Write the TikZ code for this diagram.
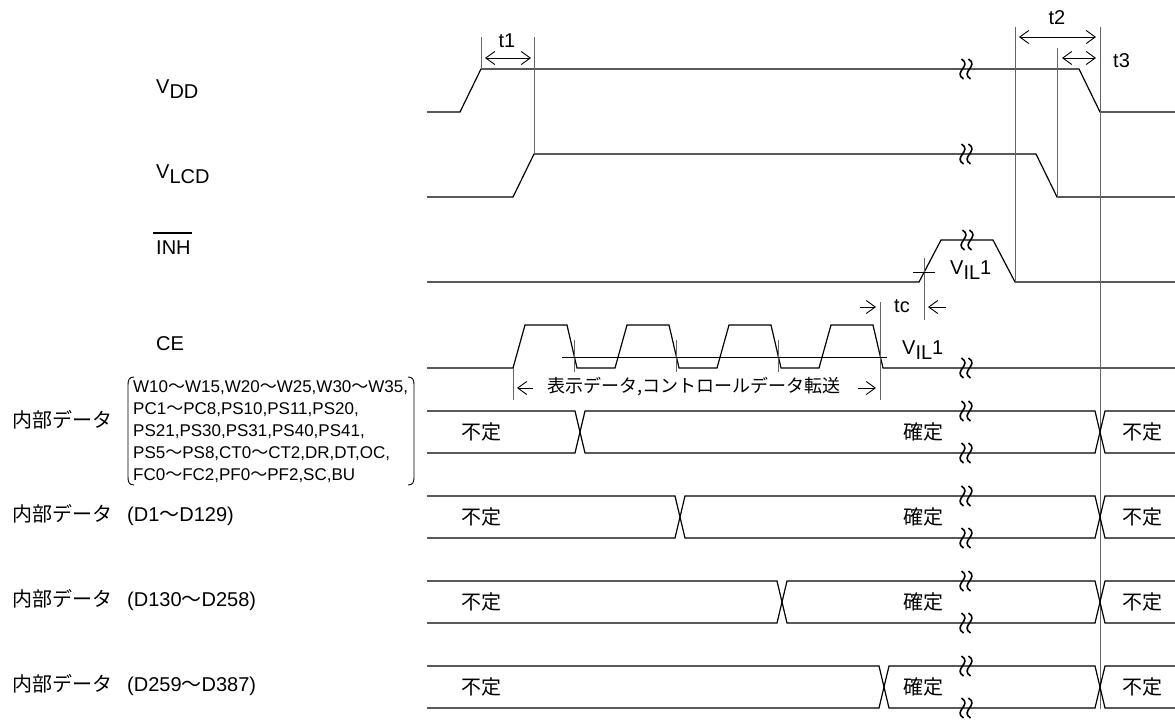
\documentclass[tikz,border=0pt]{standalone}
\usepackage{fontspec}
\setmainfont{Liberation Sans}
\newfontfamily\jpfont{Noto Sans CJK JP}
\usetikzlibrary{arrows.meta}
\usetikzlibrary{positioning}
\definecolor{guidegray}{RGB}{100,100,100}
\newcommand*{\sigfont}{\fontsize{20}{24}\selectfont}
\newcommand*{\listfont}{\fontsize{17}{22}\selectfont}
\newcommand*{\lowsub}[1]{\raisebox{-5pt}{#1}}
\newcommand*{\jtilde}{{\jpfont ～}}
\tikzstyle{wave}=[black, line width=1.2pt, line join=miter]
\tikzstyle{guide}=[guidegray, line width=1pt]
\tikzstyle{fine}=[black, line width=0.9pt]
\tikzstyle{brk}=[black, line width=1.6pt]
\tikzstyle{dimline}=[black, line width=0.9pt, {Straight Barb[length=9pt,width=13pt]}-{Straight Barb[length=9pt,width=13pt]}]
\tikzstyle{onetip}=[black, line width=0.9pt, -{Straight Barb[length=9pt,width=13pt]}]
\tikzstyle{lbl}=[inner sep=0pt, font=\sigfont]
\newcommand*{\wstroke}[2]{\draw [brk] (#1 - 1, #2 - 10) .. controls (#1 + 10, #2 - 3) and (#1 - 10, #2 + 3) .. (#1 + 1, #2 + 10);}
\newcommand*{\wbrk}[2]{\wstroke{#1 - 3.5}{#2}\wstroke{#1 + 3.5}{#2}}
\newcommand*{\bus}[2]{%
  \draw [wave] (427,#1 - 21) -- (#2 - 5,#1 - 21) -- (#2 + 5,#1 + 21) -- (1095,#1 + 21) -- (1105,#1 - 21) -- (1175,#1 - 21);
  \draw [wave] (427,#1 + 21) -- (#2 - 5,#1 + 21) -- (#2 + 5,#1 - 21) -- (1095,#1 - 21) -- (1105,#1 + 21) -- (1175,#1 + 21);
  \wbrk{966}{#1 - 21}\wbrk{966}{#1 + 21}}

\begin{document}
\begin{tikzpicture}[x=1pt, y=-1pt]
    \useasboundingbox (0,0) rectangle (1175,720);
    \node [lbl, anchor=base west] (vdd) at (156,93) {V\lowsub{DD}};
    \node [lbl, anchor=base west] (vlcd) at (156,178) {V\lowsub{LCD}};
    \node [lbl, anchor=base west] (inh) at (156,254) {INH};
    \draw [fine, line width=1.1pt] ([shift={(-3pt,7pt)}]inh.north west) -- ([shift={(1pt,7pt)}]inh.north east);
    \node [lbl, anchor=base west] (ce) at (156,350) {CE};

        \draw [wave] (427,112) -- (460,112) -- (481,69) -- (1079,69) -- (1100,112) -- (1175,112);
        \draw [wave] (427,197) -- (513,197) -- (534,154) -- (1036,154) -- (1057,197) -- (1175,197);
        \draw [wave] (427,282) -- (919,282) -- (941,240) -- (993,240) -- (1015,282) -- (1175,282);
        \draw [wave] (427,368) -- (513,368) -- (525,325) -- (567,325) -- (577,368) -- (615,368) -- (627,325) -- (669,325) -- (679,368)
            -- (717,368) -- (729,325) -- (771,325) -- (781,368) -- (819,368) -- (831,325) -- (873,325) -- (883,368) -- (1175,368);
        \wbrk{966}{69}
        \wbrk{966}{154}
        \wbrk{967}{240}
        \wbrk{966}{368}

        \draw [guide] (481,37) -- (481,69);
        \draw [guide] (534,37) -- (534,154);
        \draw [guide] (1015,27) -- (1015,282);
        \draw [guide] (1057,48) -- (1057,197);
        \draw [guide] (1100,27) -- (1100,709);
        \draw [guide] (513,368) -- (513,400);
        \draw [guide] (880,302) -- (880,400);
        \draw [guide] (574,340) -- (574,372);
        \draw [guide] (676,340) -- (676,372);
        \draw [guide] (778,340) -- (778,372);
        \draw [guide] (924,258) -- (924,320);
        \draw [fine] (913,272) -- (935,272);
        \draw [fine] (562,357) -- (887,357);

        \draw [dimline] (485,58) -- (531,58);
        \draw [dimline] (1019,37) -- (1096,37);
        \draw [dimline] (1062,58) -- (1096,58);
        \draw [onetip] (860,307) -- (876,307);
        \draw [onetip] (946,307) -- (928,307);
        \draw [onetip] (533,388) -- (517,388);
        \draw [onetip] (858,388) -- (876,388);

    \node [lbl, anchor=base] (t1) at (507,47) {t1};
    \node [lbl, anchor=base] (t2) at (1057,24) {t2};
    \node [lbl, anchor=base west] (t3) at (1113,67) {t3};
    \node [lbl, anchor=base] (tc) at (902,312) {tc};
    \node [lbl, anchor=base west] (vilinh) at (950,274) {V\lowsub{IL}1};
    \node [lbl, anchor=base west] (vilce) at (902,354) {V\lowsub{IL}1};
    \node [lbl, font=\fontsize{18}{22}\selectfont\jpfont] (xfer) at (694,387) {表示データ,コントロールデータ転送};

        \bus{432}{580}
        \bus{517}{680}
        \bus{602}{782}
        \bus{687}{884}

    \node [lbl, anchor=west, font=\sigfont\jpfont] (data1) at (12,420) {内部データ};
    \node [lbl, anchor=west, align=left, font=\listfont] (reglist) at (133,432)
        {W10\jtilde W15,W20\jtilde W25,W30\jtilde W35,\\PC1\jtilde PC8,PS10,PS11,PS20,\\PS21,PS30,PS31,PS40,PS41,\\PS5\jtilde PS8,CT0\jtilde CT2,DR,DT,OC,\\FC0\jtilde FC2,PF0\jtilde PF2,SC,BU};
        \draw [fine] (134,377) .. controls (129,377) and (128,380) .. (128,385) -- (128,477) .. controls (128,482) and (129,485) .. (134,485);
        \draw [fine] (408,377) .. controls (413,377) and (414,380) .. (414,385) -- (414,477) .. controls (414,482) and (413,485) .. (408,485);
    \node [lbl, anchor=west] (data2) at (12,515) {{\jpfont 内部データ}\hspace{15pt}(D1\jtilde D129)};
    \node [lbl, anchor=west] (data3) at (12,600) {{\jpfont 内部データ}\hspace{15pt}(D130\jtilde D258)};
    \node [lbl, anchor=west] (data4) at (12,685) {{\jpfont 内部データ}\hspace{15pt}(D259\jtilde D387)};

    \node [lbl, font=\sigfont\jpfont] (undef1a) at (481,432) {不定};
    \node [lbl, font=\sigfont\jpfont] (fix1) at (923,432) {確定};
    \node [lbl, font=\sigfont\jpfont] (undef1b) at (1142,432) {不定};
    \node [lbl, font=\sigfont\jpfont] (undef2a) at (481,517) {不定};
    \node [lbl, font=\sigfont\jpfont] (fix2) at (923,517) {確定};
    \node [lbl, font=\sigfont\jpfont] (undef2b) at (1142,517) {不定};
    \node [lbl, font=\sigfont\jpfont] (undef3a) at (481,602) {不定};
    \node [lbl, font=\sigfont\jpfont] (fix3) at (923,602) {確定};
    \node [lbl, font=\sigfont\jpfont] (undef3b) at (1142,602) {不定};
    \node [lbl, font=\sigfont\jpfont] (undef4a) at (481,687) {不定};
    \node [lbl, font=\sigfont\jpfont] (fix4) at (923,687) {確定};
    \node [lbl, font=\sigfont\jpfont] (undef4b) at (1142,687) {不定};
    \end{tikzpicture}
\end{document}
